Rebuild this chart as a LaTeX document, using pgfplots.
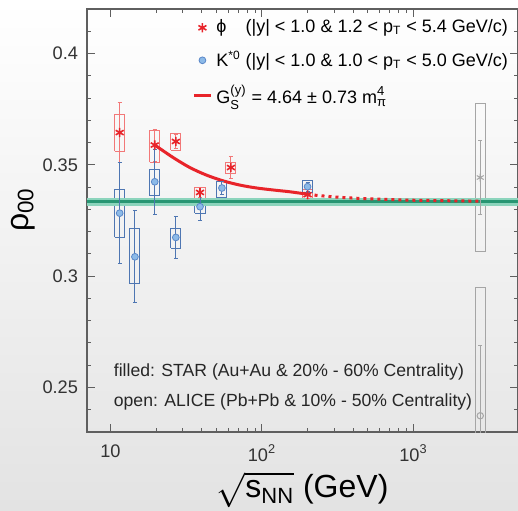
\documentclass[border=0pt]{standalone}
\usepackage{fontspec}
\setmainfont{Liberation Sans}
\usepackage{pgfplots}
\usepackage{pgfplotstable}
\pgfplotsset{compat=1.18}

\definecolor{phired}{RGB}{232,36,42}
\definecolor{phibox}{RGB}{242,120,120}
\definecolor{kbox}{RGB}{78,118,178}
\definecolor{kfill}{RGB}{140,186,232}
\definecolor{kline}{RGB}{90,135,200}
\definecolor{glin}{RGB}{40,150,115}
\definecolor{gband}{RGB}{140,212,188}
\definecolor{alice}{RGB}{165,165,165}
\definecolor{axgray}{RGB}{95,95,95}

% STAR phi: energy, rho00, stat. error
\pgfplotstableread{
x     y      e
11.5  0.3645 0.0135
19.6  0.3589 0.0072
27    0.3605 0.0030
39    0.3376 0.0023
62.4  0.3488 0.0050
200   0.3366 0.0015
}\phistar
% STAR K*0
\pgfplotstableread{
x     y      e
11.5  0.3283 0.0226
14.5  0.3087 0.0207
19.6  0.3424 0.0145
27    0.3174 0.0095
39    0.3312 0.0060
54.4  0.3396 0.0030
200   0.3402 0.0020
}\kstar
% ALICE phi and K*0 at 2.76 TeV
\pgfplotstableread{
x     y      e
2760  0.3443 0.0167
}\phialice
\pgfplotstableread{
x     y      e
2760  0.2373 0.0318
}\kalice

\begin{document}
\begin{tikzpicture}
\fill[top color=white, bottom color=black!11] (-43.5pt,-39pt) rectangle (215.5pt,216pt);
\begin{axis}[
  at={(0,0)}, anchor=south west,
  scale only axis, width=215.5pt, height=211.5pt,
  xmode=log, xmin=7, xmax=4900,
  ymin=0.23, ymax=0.42,
  axis line style={axgray, line width=0.6pt},
  tick style={axgray, line width=0.5pt},
  major tick length=4pt, minor tick length=2pt,
  xtick={10,100,1000},
  xticklabels={10, 10\textsuperscript{2}, 10\textsuperscript{3}},
  ytick={0.25,0.3,0.35,0.4},
  yticklabels={0.25,0.3,0.35,0.4},
  minor ytick={0.24,0.26,0.27,0.28,0.29,0.31,0.32,0.33,0.34,0.36,0.37,0.38,0.39,0.41},
  tick label style={font=\fontsize{9.1}{11}\selectfont, text=black!80},
  xticklabel style={yshift=-3pt},
  yticklabel style={xshift=-1pt},
  xlabel={$\sqrt{\mbox{s\textsubscript{\fontsize{11}{11}\selectfont NN}}}$ (GeV)},
  ylabel={ρ\textsubscript{00}},
  label style={font=\fontsize{16}{18}\selectfont},
  xlabel style={at={(axis description cs:0.5,0)}, anchor=center, yshift=-29pt},
  ylabel style={at={([xshift=-32pt]axis description cs:0,0.525)}, anchor=center},
  legend style={at={(axis description cs:0.2436,0.985)}, anchor=north west,
    draw=none, fill=none, font=\fontsize{9}{10}\selectfont,
    row sep=3.5pt, inner sep=0pt},
  legend cell align=left,
  legend image code/.code={\draw[mark repeat=2,mark phase=2,#1]
    plot coordinates {(0cm,0cm) (0.15cm,0cm) (0.3cm,0cm)};},
  clip=true,
]

% systematic boxes, STAR phi
\addplot[phibox, line width=0.5pt, forget plot] coordinates {(10.66,0.3560) (12.41,0.3560) (12.41,0.3725) (10.66,0.3725) (10.66,0.3560)};
\addplot[phibox, line width=0.5pt, forget plot] coordinates {(18.16,0.3511) (21.15,0.3511) (21.15,0.3656) (18.16,0.3656) (18.16,0.3511)};
\addplot[phibox, line width=0.5pt, forget plot] coordinates {(25.02,0.3566) (29.13,0.3566) (29.13,0.3643) (25.02,0.3643) (25.02,0.3566)};
\addplot[phibox, line width=0.5pt, forget plot] coordinates {(36.14,0.3349) (42.08,0.3349) (42.08,0.3398) (36.14,0.3398) (36.14,0.3349)};
\addplot[phibox, line width=0.5pt, forget plot] coordinates {(57.83,0.3461) (67.33,0.3461) (67.33,0.3511) (57.83,0.3511) (57.83,0.3461)};
\addplot[phibox, line width=0.5pt, forget plot] coordinates {(185.4,0.3339) (215.8,0.3339) (215.8,0.3391) (185.4,0.3391) (185.4,0.3339)};
% systematic boxes, STAR K*0
\addplot[kbox, line width=0.5pt, forget plot] coordinates {(10.66,0.3174) (12.41,0.3174) (12.41,0.3388) (10.66,0.3388) (10.66,0.3174)};
\addplot[kbox, line width=0.5pt, forget plot] coordinates {(13.44,0.2965) (15.65,0.2965) (15.65,0.3212) (13.44,0.3212) (13.44,0.2965)};
\addplot[kbox, line width=0.5pt, forget plot] coordinates {(18.16,0.3361) (21.15,0.3361) (21.15,0.3481) (18.16,0.3481) (18.16,0.3361)};
\addplot[kbox, line width=0.5pt, forget plot] coordinates {(25.02,0.3126) (29.13,0.3126) (29.13,0.3216) (25.02,0.3216) (25.02,0.3126)};
\addplot[kbox, line width=0.5pt, forget plot] coordinates {(36.14,0.3282) (42.08,0.3282) (42.08,0.3346) (36.14,0.3346) (36.14,0.3282)};
\addplot[kbox, line width=0.5pt, forget plot] coordinates {(50.42,0.3353) (58.70,0.3353) (58.70,0.3425) (50.42,0.3425) (50.42,0.3353)};
\addplot[kbox, line width=0.5pt, forget plot] coordinates {(185.4,0.3376) (215.8,0.3376) (215.8,0.3428) (185.4,0.3428) (185.4,0.3376)};
% systematic boxes, ALICE
\addplot[alice, line width=0.5pt, forget plot] coordinates {(2558,0.3111) (2978,0.3111) (2978,0.3776) (2558,0.3776) (2558,0.3111)};
\addplot[alice, line width=0.5pt, forget plot] coordinates {(2558,0.1800) (2978,0.1800) (2978,0.2949) (2558,0.2949) (2558,0.1800)};

% rho00 = 1/3 band
\addplot[gband, line width=4pt, forget plot] coordinates {(7,0.3334) (4900,0.3334)};
\addplot[glin, line width=1.6pt, forget plot] coordinates {(7,0.3334) (4900,0.3334)};

% G_s fit: solid over the data range, dotted beyond
\addplot[phired, line width=1.5pt, smooth, forget plot] coordinates {
  (19.6,0.3589) (25.9,0.3533) (33.4,0.3488) (43.0,0.3454) (55.5,0.3428)
  (71.6,0.3409) (92.3,0.3396) (119,0.3387) (153,0.3379) (200,0.3368)};
\addplot[phired, line width=1.5pt, dotted, smooth, forget plot] coordinates {
  (200,0.3367) (300,0.3356) (450,0.3349) (700,0.3344) (1000,0.3341)
  (1600,0.3339) (2760,0.3337)};

% ALICE points
\addplot[only marks, mark=asterisk, mark size=2pt, alice, line width=0.5pt, forget plot,
  error bars/.cd, y dir=both, y explicit,
  error bar style={alice, line width=0.5pt},
  error mark options={rotate=90, mark size=1pt}]
  table[x=x, y=y, y error=e] {\phialice};
\addplot[only marks, mark=o, mark size=1.6pt, alice, line width=0.5pt, forget plot,
  error bars/.cd, y dir=both, y explicit,
  error bar style={alice, line width=0.5pt},
  error mark options={rotate=90, mark size=1pt}]
  table[x=x, y=y, y error=e] {\kalice};

% STAR points
\addplot[only marks, mark=asterisk, mark size=2.3pt, phired, line width=0.8pt,
  error bars/.cd, y dir=both, y explicit,
  error bar style={phibox, line width=0.5pt},
  error mark options={rotate=90, mark size=1pt}]
  table[x=x, y=y, y error=e] {\phistar};
\addlegendentry{\makebox[1.62em][l]{ϕ}(|y| < 1.0 \& 1.2 < p\textsubscript{T} < 5.4 GeV/c)}
\addplot[only marks, mark=*, mark size=1.7pt, draw=kline, fill=kfill, line width=0.4pt,
  error bars/.cd, y dir=both, y explicit,
  error bar style={kbox, line width=0.5pt},
  error mark options={rotate=90, mark size=1pt, kbox}]
  table[x=x, y=y, y error=e] {\kstar};
\addlegendentry{\makebox[1.62em][l]{K\textsuperscript{*0}}(|y| < 1.0 \& 1.0 < p\textsubscript{T} < 5.0 GeV/c)}
\addlegendimage{phired, line width=1.5pt}
\addlegendentry{G$^{\mbox{\fontsize{6.5}{6.5}\selectfont(y)}}_{\mbox{\fontsize{6.5}{6.5}\selectfont S}}$ = 4.64 ± 0.73 m$^{\mbox{\fontsize{6.5}{6.5}\selectfont 4}}_{\mbox{\fontsize{6.5}{6.5}\selectfont π}}$}

\node[anchor=west, font=\fontsize{8.8}{10}\selectfont, text=black!85] at (rel axis cs:0.046,0.142) {filled: STAR (Au+Au \& 20\% - 60\% Centrality)};
\node[anchor=west, font=\fontsize{8.8}{10}\selectfont, text=black!85] at (rel axis cs:0.046,0.071) {open: ALICE (Pb+Pb \& 10\% - 50\% Centrality)};
\end{axis}
\pgfresetboundingbox
\path[use as bounding box] (-43.5pt,-39pt) rectangle (215.5pt,216pt);
\end{tikzpicture}
\end{document}
